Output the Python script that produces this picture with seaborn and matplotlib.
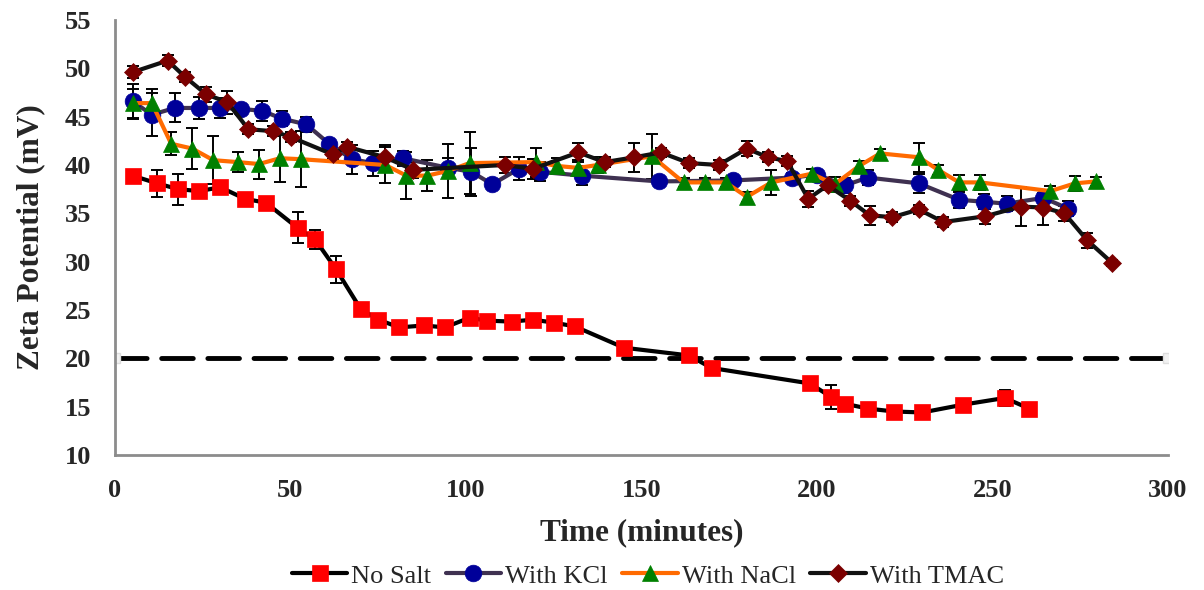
import numpy as np
import pandas as pd
import matplotlib
matplotlib.use("Agg")
import matplotlib.pyplot as plt
from matplotlib.ticker import MultipleLocator
import seaborn as sns

# ---- data ----
nosalt_t = [5, 12, 18, 24, 30, 37, 43, 52, 57, 63, 70, 75, 81, 88, 94, 101, 106, 113, 119, 125,
            131, 145, 163.5, 170, 198, 204, 208, 214.5, 222, 230, 241.5, 253.5, 260.5]
nosalt_z = [38.9, 38.1, 37.5, 37.3, 37.7, 36.5, 36.1, 33.5, 32.3, 29.2, 25.1, 24.0, 23.2, 23.4, 23.2,
            24.2, 23.9, 23.8, 24.0, 23.7, 23.3, 21.1, 20.3, 19.0, 17.4, 16.0, 15.3, 14.8, 14.5, 14.4,
            15.2, 15.9, 14.8]
nosalt_e = [0.3, 1.4, 1.6, 0.3, 0.3, 0.3, 0.3, 1.6, 1.0, 1.4, 0.3, 0.3, 0.3, 0.3, 0.3, 0.3, 0.3,
            0.3, 0.3, 0.3, 0.3, 0.3, 0.5, 0.5, 0.6, 1.2, 0.3, 0.3, 0.3, 0.3, 0.3, 0.8, 0.3]

kcl_t = [5, 10.5, 17, 24, 30, 36, 42, 47.5, 54.5, 61, 67.5, 73.5, 82, 95, 101.5, 107.5, 115, 121,
         133, 155, 176, 193, 200, 208, 214.5, 229, 240.5, 247.5, 254, 264.5, 271.5]
kcl_z = [46.6, 45.2, 45.9, 45.9, 45.9, 45.8, 45.6, 44.8, 44.2, 42.2, 40.6, 40.2, 40.7, 39.7, 39.3,
         38.0, 39.6, 39.3, 38.9, 38.3, 38.4, 38.7, 39.0, 37.9, 38.7, 38.1, 36.4, 36.2, 36.0, 36.6, 35.5]
kcl_e = [1.8, 2.2, 1.5, 1.1, 1.0, 0.5, 1.0, 0.8, 0.8, 0.5, 1.5, 1.3, 0.8, 1.0, 2.5, 0.4, 1.2, 1.0,
         1.0, 0.4, 0.5, 0.5, 0.5, 0.8, 0.8, 1.0, 0.8, 0.8, 0.8, 0.5, 0.8]

nacl_t = [5, 10.5, 16, 22, 28, 35, 41, 47, 53, 77, 83, 89, 95, 101, 120, 126, 132, 137.5, 153, 162,
          168, 174, 180, 187, 198.5, 205, 212, 218, 229, 234.5, 240.5, 246.5, 266.5, 273.5, 279.5]
nacl_z = [46.4, 46.4, 42.2, 41.7, 40.5, 40.3, 40.1, 40.7, 40.6, 40.0, 38.9, 38.9, 39.4, 40.2, 40.3,
          39.9, 39.7, 40.0, 40.9, 38.2, 38.2, 38.2, 36.7, 38.2, 39.1, 38.0, 39.9, 41.2, 40.8, 39.5,
          38.2, 38.2, 37.3, 38.1, 38.3]
nacl_e = [1.5, 1.5, 1.2, 2.1, 2.5, 1.0, 1.5, 2.5, 2.9, 1.9, 2.4, 1.6, 2.8, 3.2, 1.5, 0.8, 0.8, 0.8,
          2.3, 0.5, 0.5, 0.5, 0.5, 1.3, 0.5, 0.8, 0.5, 0.5, 1.5, 0.5, 0.8, 0.8, 0.5, 0.8, 0.5]

tmac_t = [5, 15, 20, 26, 32, 38, 45, 50, 62, 66, 77, 85, 111, 119, 132, 139.5, 148, 155.5, 163.5, 172,
          180, 186, 191.5, 197.5, 203, 209.5, 215, 221.5, 229, 236, 248, 258, 264.5, 270.5, 277, 284]
tmac_z = [49.6, 50.8, 49.1, 47.3, 46.5, 43.7, 43.5, 42.9, 41.1, 41.9, 40.8, 39.5, 40.0, 39.6, 41.3,
          40.3, 40.8, 41.3, 40.2, 40.0, 41.7, 40.8, 40.4, 36.5, 37.9, 36.3, 34.8, 34.6, 35.4, 34.1,
          34.7, 35.7, 35.6, 35.0, 32.2, 29.9]
tmac_e = [0.6, 0.6, 0.5, 0.8, 1.2, 0.5, 0.5, 0.5, 0.5, 0.5, 1.3, 0.8, 0.8, 1.0, 1.0, 0.5, 1.5, 0.5,
          0.5, 0.5, 0.8, 0.5, 0.5, 0.8, 0.5, 0.5, 1.0, 0.5, 0.5, 0.5, 0.8, 2.0, 1.8, 0.8, 0.8, 0.3]

threshold_t = [0, 300]
threshold_z = [20, 20]

series_names = ["No Salt", "With KCl", "With NaCl", "With TMAC"]

# ---- style ----
sns.set_theme(style="white")
plt.rcParams["font.family"] = ["Liberation Serif", "DejaVu Serif"]

fig = plt.figure(figsize=(12.04, 5.90), dpi=100)
ax = fig.add_axes([115 / 1204, 1 - 455 / 590, (1168 - 115) / 1204, (455 - 20) / 590])

styles = [
    dict(t=nosalt_t, z=nosalt_z, e=nosalt_e, line="#000000", mk="s", mfc="#FF0000", ms=11.5),
    dict(t=kcl_t, z=kcl_z, e=kcl_e, line="#3F3151", mk="o", mfc="#000099", ms=12),
    dict(t=nacl_t, z=nacl_z, e=nacl_e, line="#FF6A00", mk="^", mfc="#008000", ms=12),
    dict(t=tmac_t, z=tmac_z, e=tmac_e, line="#111111", mk="D", mfc="#7B0000", ms=9),
]

# threshold dashed line
ax.plot(threshold_t, threshold_z, color="black", lw=3.5, dashes=(6.5, 3.0),
        dash_capstyle="round", zorder=1)
ax.plot(threshold_t, threshold_z, ls="none", marker="s", ms=7, mfc="#f2f2f2",
        mec="#dddddd", zorder=1.5)

for name, s in zip(series_names, styles):
    df = pd.DataFrame({"Time": s["t"], "Zeta": s["z"], "err": s["e"]})
    ax.errorbar(df["Time"], df["Zeta"], yerr=df["err"], fmt="none", ecolor="black",
                elinewidth=1.4, capsize=4, capthick=1.4, zorder=2)
    sns.lineplot(data=df, x="Time", y="Zeta", ax=ax, sort=False, estimator=None,
                 color=s["line"], lw=3.0, marker=s["mk"], markersize=s["ms"],
                 markerfacecolor=s["mfc"], markeredgecolor=s["mfc"], markeredgewidth=0.5,
                 label=name, zorder=3, legend=False)

ax.set_xlim(0, 300)
ax.set_ylim(10, 55)
ax.xaxis.set_major_locator(MultipleLocator(50))
ax.xaxis.set_minor_locator(MultipleLocator(10))
ax.yaxis.set_major_locator(MultipleLocator(5))
ax.yaxis.set_minor_locator(MultipleLocator(1))
ax.tick_params(axis="both", which="both", direction="in", color="#8c8c8c", width=1.5)
ax.tick_params(axis="both", which="major", length=6, labelsize=19)
ax.tick_params(axis="both", which="minor", length=6)
ax.tick_params(axis="x", which="major", pad=17)
ax.tick_params(axis="y", which="major", pad=17)
for lab in ax.get_xticklabels() + ax.get_yticklabels():
    lab.set_fontweight("bold")

for side in ["top", "right"]:
    ax.spines[side].set_visible(False)
for side in ["left", "bottom"]:
    ax.spines[side].set_color("#8c8c8c")
    ax.spines[side].set_linewidth(2)

ax.set_xlabel("Time (minutes)", fontsize=22.5, fontweight="bold", labelpad=12)
ax.set_ylabel("Zeta Potential (mV)", fontsize=22.5, fontweight="bold", labelpad=14)
ax.grid(False)

h, l = ax.get_legend_handles_labels()
fig.legend(h, l, loc="center", bbox_to_anchor=(0.538, 0.024), ncol=4, frameon=False,
           fontsize=19, handlelength=2.1, handletextpad=0.15, columnspacing=0.55,
           borderaxespad=0)

fig.savefig("out.png", dpi=100)
